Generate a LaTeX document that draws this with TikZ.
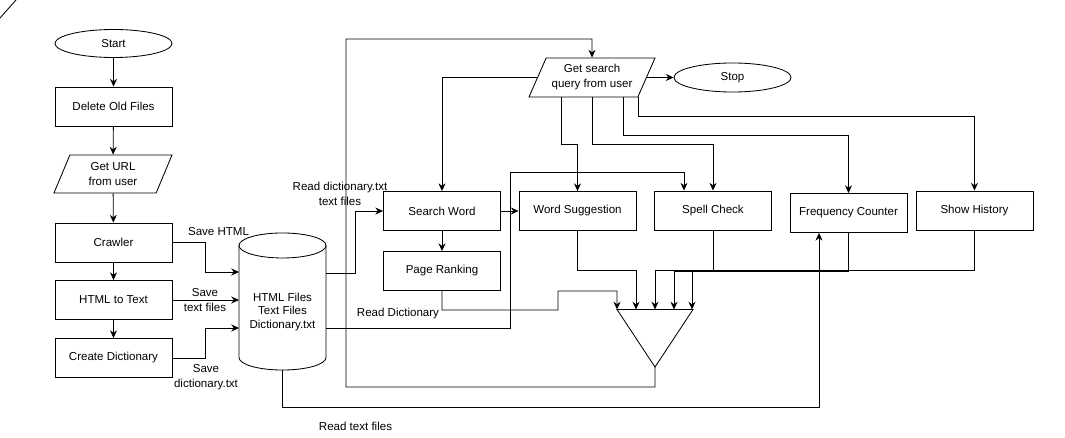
\documentclass[tikz,border=0pt]{standalone}
\usepackage{fontspec}
\setmainfont{Liberation Sans}
\usetikzlibrary{shapes.geometric,arrows.meta}

\begin{document}
\begin{tikzpicture}[
    x=0.025cm, y=-0.025cm,
    line width=0.6pt,
    every node/.style={font=\fontsize{8.2}{10.7}\selectfont},
    box/.style={rectangle, draw, minimum width=2.925cm, minimum height=0.975cm},
    term/.style={ellipse, draw, minimum width=2.925cm, minimum height=0.7cm},
    io/.style={trapezium, trapezium left angle=64, trapezium right angle=116, trapezium stretches body, draw, align=center, minimum width=3.15cm, minimum height=0.975cm, inner xsep=0pt},
    hold/.style={rectangle, inner sep=0pt, outer sep=0pt},
    lbl/.style={align=center, inner sep=0pt},
    arr/.style={-{Stealth[length=5.5pt,width=5pt]}}
]
    \useasboundingbox (0,0) rectangle (1065,438);
    \draw (0,18) -- (16,0);

    % Crawling steps
    \node[term] (start) at (113.5,43.5) {Start};
    \node[box] (del) at (113.5,106.5) {Delete Old Files};
    \node[io, minimum width=2.95cm, minimum height=0.95cm] (url) at (113,174) {Get URL\\from user};
    \node[box] (crawl) at (113.5,242.5) {Crawler};
    \node[box] (totext) at (113.5,300) {HTML to Text};
    \node[box] (mkdict) at (113.5,358) {Create Dictionary};
    \draw[arr] (start) -- (del);
    \draw[arr] (del) -- (url);
    \draw[arr] (url) -- (crawl);
    \draw[arr] (crawl) -- (totext);
    \draw[arr] (totext) -- (mkdict);

    % Storage
    \node[hold, minimum width=2.175cm, minimum height=3.425cm] (db) at (282.5,301.5) {};
    \draw ([yshift=-0.3125cm]db.north west) -- ([yshift=0.3125cm]db.south west)
        arc[start angle=180, end angle=360, x radius=1.0875cm, y radius=0.3125cm]
        -- ([yshift=-0.3125cm]db.north east);
    \draw ([yshift=-0.3125cm]db.north) ellipse [x radius=1.0875cm, y radius=0.3125cm];
    \node[lbl, font=\fontsize{8.2}{9.6}\selectfont] (dbtext) at (282.5,312) {HTML Files\\Text Files\\Dictionary.txt};

    \draw[arr] (crawl.east) -| (205,272) -- (db.west |- 205,272);
    \draw[arr] (totext.east) -- (db.west |- totext.east);
    \draw[arr] (mkdict.east) -| (205,328) -- (db.west |- 205,328);
    \node[lbl] (lhtml) at (218.5,232) {Save HTML};
    \node[lbl] (ltext) at (205,300) {Save\\text files};
    \node[lbl] (ldict) at (206,377.5) {Save\\dictionary.txt};

    % Search steps
    \node[io] (query) at (592,77.5) {Get search\\query from user};
    \node[term, minimum height=0.725cm] (stop) at (732.5,77.5) {Stop};
    \node[box] (search) at (442,211) {Search Word};
    \node[box] (rank) at (442,271) {Page Ranking};
    \node[box] (suggest) at (577.5,211) {Word Suggestion};
    \node[box] (spell) at (713,210.5) {Spell Check};
    \node[box] (freq) at (848.5,213) {Frequency Counter};
    \node[box] (hist) at (974.5,210.5) {Show History};
    \node[hold, minimum width=1.9cm, minimum height=1.4375cm] (merge) at (655,338.25) {};
    \draw (merge.north west) -- (merge.north east) -- (merge.south) -- cycle;

    % Reading the storage
    \draw[arr] (db.east |- 0,273) -| (355,211) -- (search.west);
    \draw[arr] (db.east |- 0,328) -| (510,172) -| (spell.north -| 684,0);
    \draw[arr] (db.south) |- (819,407) -- (819,0 |- freq.south);
    \node[lbl] (lread) at (340,193.5) {Read dictionary.txt\\text files};
    \node[lbl] (lrdict) at (398,314) {Read Dictionary};
    \node[lbl] (lrtext) at (355.5,426) {Read text files};

    % Query to the tools
    \draw[arr] (query.east) -- (stop.west);
    \draw[arr] (query.west) -| (search.north);
    \draw[arr] (561,0 |- query.south) |- (suggest.north |- 0,144) -- (suggest.north);
    \draw[arr] (query.south) |- (spell.north |- 0,144) -- (spell.north);
    \draw[arr] (623,0 |- query.south) |- (freq.north |- 0,135) -- (freq.north);
    \draw[arr] (query.bottom right corner) |- (hist.north |- 0,116) -- (hist.north);
    \draw[arr] (search) -- (suggest);
    \draw[arr] (search) -- (rank);

    % Tools back to the query
    \draw[arr] (rank.south) |- (558,310) |- (617,291) -- (merge.north west);
    \draw[arr] (suggest.south) |- (636,270) -- (merge.north -| 636,0);
    \draw[arr] (spell.south) |- (655,270) -- (merge.north);
    \draw[arr] (freq.south) |- (674,271.5) -- (merge.north -| 674,0);
    \draw[arr] (hist.south) |- (692,270) -- (merge.north -| 692,0);
    \draw[arr] (merge.south) |- (346,387) |- (592,39) -- (query.north);
\end{tikzpicture}
\end{document}
